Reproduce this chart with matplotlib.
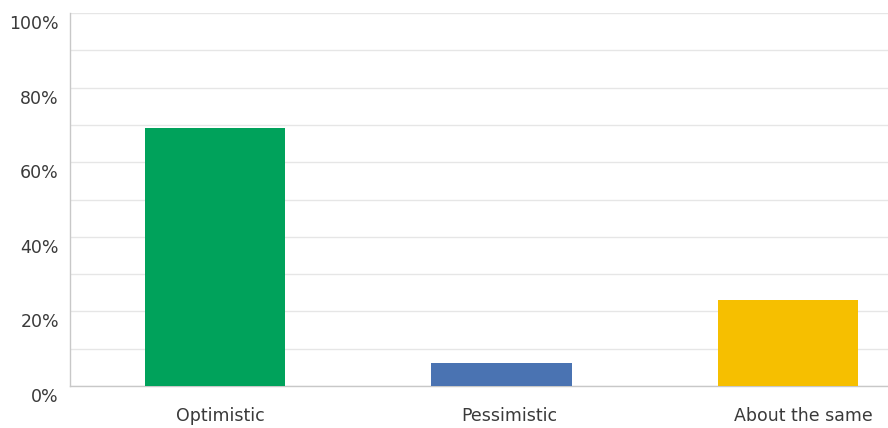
import numpy as np
import matplotlib
matplotlib.use("Agg")
import matplotlib.pyplot as plt
import matplotlib.transforms as mtransforms
from matplotlib.ticker import FuncFormatter, MultipleLocator

plt.rcParams['font.family'] = ['DejaVu Sans']

categories = ['Optimistic', 'Pessimistic', 'About the same']
shares = [69.3, 6.2, 23.0]
colors = ['#00a25b', '#4a73b2', '#f6bf00']

fig = plt.figure(figsize=(8.88, 4.28), dpi=100)
ax = fig.add_axes([70/888, 42/428, 818/888, 373/428])

x = np.arange(len(categories))
ax.bar(x, shares, width=0.49, color=colors, zorder=3)

ax.set_xlim(-0.507, 2.35)
ax.set_ylim(0, 100)

# light horizontal grid every 10%, labels every 20%
ax.yaxis.set_major_locator(MultipleLocator(20))
ax.yaxis.set_minor_locator(MultipleLocator(10))
ax.yaxis.set_major_formatter(FuncFormatter(lambda v, p: f'{v:.0f}%'))
ax.grid(axis='y', which='both', color='#e6e6e6', linewidth=1, zorder=0)

for s in ['top', 'right']:
    ax.spines[s].set_visible(False)
for s in ['left', 'bottom']:
    ax.spines[s].set_color('#c8c8c8')
    ax.spines[s].set_linewidth(1)

ax.tick_params(axis='y', which='both', length=0, pad=8, labelsize=12.5, labelcolor='#3a3a3a')
ax.tick_params(axis='x', length=0, pad=15, labelsize=12.5, labelcolor='#3a3a3a')

ax.set_xticks(x)
ax.set_xticklabels(categories)

# y labels sit a little below their grid lines, x labels drift right
for lab in ax.get_yticklabels():
    lab.set_transform(lab.get_transform() + mtransforms.ScaledTranslation(0, -9/100, fig.dpi_scale_trans))
for lab, dx in zip(ax.get_xticklabels(), [5, 8, 16]):
    lab.set_transform(lab.get_transform() + mtransforms.ScaledTranslation(dx/100, 0, fig.dpi_scale_trans))

fig.savefig('out.png', dpi=100)
